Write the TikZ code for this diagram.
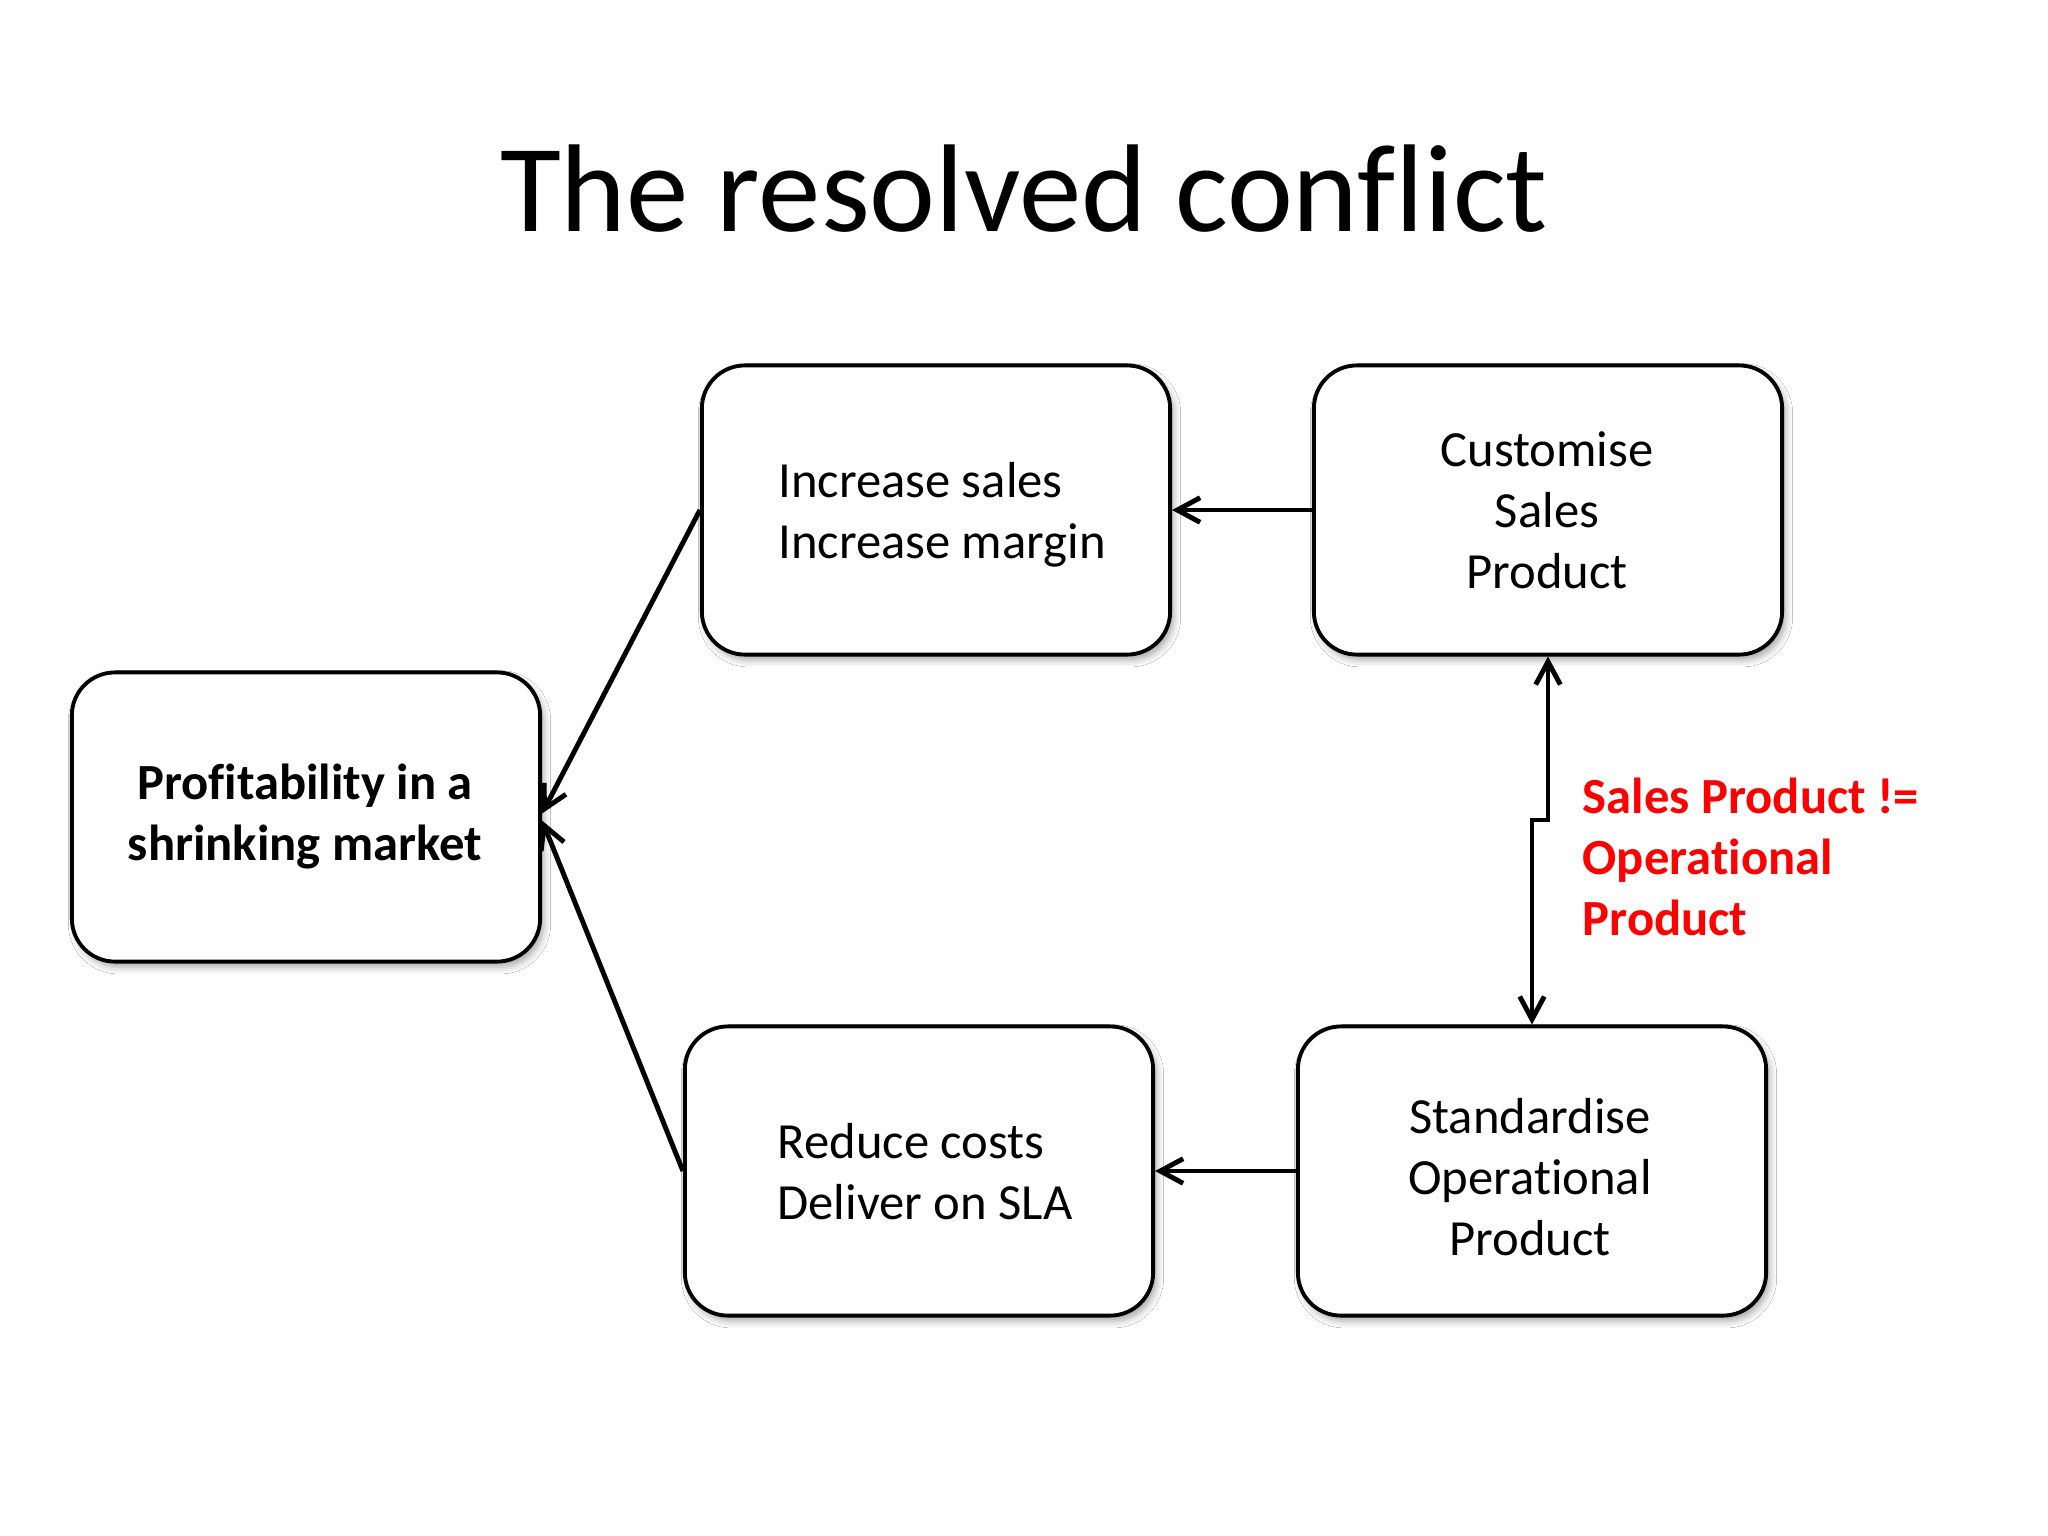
\documentclass[tikz,border=0pt]{standalone}
\usepackage{fontspec}
\setmainfont{Carlito}[Ligatures=NoCommon]
\usetikzlibrary{arrows.meta,shadows.blur}
\begin{document}
\begin{tikzpicture}[x=0.01cm,y=-0.01cm,
  box/.style={draw=black, line width=1.1pt, rounded corners=0.43cm,
    minimum width=4.68cm, minimum height=2.89cm, inner sep=0pt, fill=white,
    blur shadow={shadow xshift=1pt, shadow yshift=-1.5pt, shadow blur radius=2pt, shadow opacity=35}},
  txt/.style={inner sep=0pt, font=\fontsize{14.4}{17.35}\selectfont, align=center},
  arr/.style={line width=1.4pt, -{Straight Barb[length=6.5pt,width=7pt]}},
  darr/.style={line width=1.4pt, {Straight Barb[length=6.5pt,width=7pt]}-{Straight Barb[length=6.5pt,width=7pt]}},
]
\fill[white] (0,0) rectangle (2048,1536);
\useasboundingbox (0,0) rectangle (2048,1536);

\node[font=\fontsize{35.5}{42}\selectfont, anchor=base, inner sep=0pt] (title) at (1024,231) {The resolved conflict};

\node[box] (prof) at (306,817) {};
\node[box] (inc) at (936,510) {};
\node[box] (cus) at (1548,510) {};
\node[box] (rdc) at (919,1171) {};
\node[box] (std) at (1532,1171) {};

\node[txt, font=\fontsize{14.4}{17.35}\selectfont\bfseries] (proft) at (305,817) {Profitability in a\\shrinking market};
\node[txt, align=left] (inct) at (942,515) {Increase sales\\Increase margin};
\node[txt] (cust) at (1547,510) {Customise\\Sales\\Product};
\node[txt, align=left] (rdct) at (925,1172) {Reduce costs\\Deliver on SLA};
\node[txt] (stdt) at (1530,1177) {Standardise\\Operational\\Product};

\node[font=\fontsize{14.4}{17.35}\selectfont\bfseries, text=red, align=left, anchor=west, inner sep=0pt] (lbl) at (1582,857) {Sales Product !=\\Operational\\Product};

\draw[arr] (cus.west) -- (inc.east);
\draw[arr] (std.west) -- (rdc.east);
\draw[arr] (inc.west) -- ([yshift=1pt]prof.east);
\draw[arr] (rdc.west) -- ([yshift=-1pt]prof.east);
\coordinate (jog) at (1548,820);
\draw[darr] (cus.south) -- (jog) -| (std.north);
\end{tikzpicture}
\end{document}
